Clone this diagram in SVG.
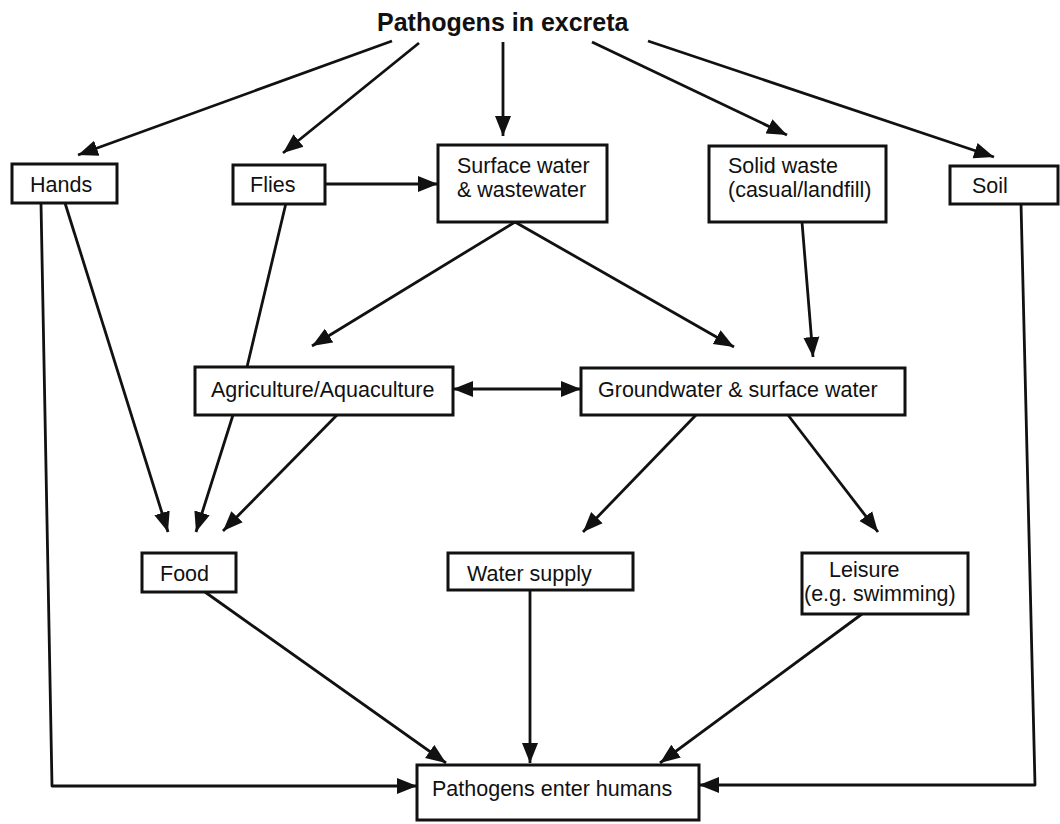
<svg xmlns="http://www.w3.org/2000/svg" width="1060" height="824" viewBox="0 0 1060 824">
<defs>
<marker id="ah" markerUnits="userSpaceOnUse" markerWidth="22" markerHeight="18" refX="20" refY="8" orient="auto-start-reverse" viewBox="0 0 22 16">
<path d="M0,0 L20,8 L0,16 Z" fill="#111"/>
</marker>
<style>
.box{fill:#fff;stroke:#111;stroke-width:3}
.t{font-family:"Liberation Sans",Arial,sans-serif;font-size:21.5px;fill:#111}
.title{font-family:"Liberation Sans",Arial,sans-serif;font-size:25px;font-weight:bold;fill:#111}
.c{fill:none;stroke:#111;stroke-width:2.8;stroke-linejoin:round}
.a{marker-end:url(#ah)}
</style>
</defs>
<rect width="1060" height="824" fill="#fff"/>
<g id="connectors">
<line class="c a" x1="392" y1="41" x2="78" y2="155"/>
<line class="c a" x1="419" y1="43" x2="283" y2="153"/>
<line class="c a" x1="503" y1="42" x2="503" y2="136"/>
<line class="c a" x1="592" y1="42" x2="787" y2="135"/>
<line class="c a" x1="648" y1="41" x2="994" y2="157"/>
<line class="c a" x1="325" y1="184" x2="438" y2="184"/>
<line class="c a" x1="515" y1="222" x2="312" y2="346"/>
<line class="c a" x1="515" y1="222" x2="734" y2="347"/>
<line class="c a" x1="802" y1="222" x2="813" y2="357"/>
<line class="c a" x1="453" y1="389" x2="581" y2="389" style="marker-start:url(#ah)"/>
<line class="c a" x1="65" y1="203" x2="168" y2="532"/>
<polyline class="c a" points="286,203 247,367 233,415 196,532"/>
<line class="c a" x1="337" y1="415" x2="223" y2="531"/>
<line class="c a" x1="696" y1="415" x2="583" y2="532"/>
<line class="c a" x1="788" y1="415" x2="878" y2="532"/>
<line class="c a" x1="205" y1="592" x2="446" y2="763"/>
<line class="c a" x1="530" y1="590" x2="530" y2="763"/>
<line class="c a" x1="862" y1="614" x2="660" y2="763"/>
<polyline class="c a" points="41,203 52,786 417,786"/>
<polyline class="c a" points="1021,203 1035,785 699,785"/>
</g>
<text class="title" x="377" y="31">Pathogens in excreta</text>
<g id="hands"><rect class="box" x="12" y="164" width="105" height="39"/><text class="t" x="30" y="192">Hands</text></g>
<g id="flies"><rect class="box" x="233" y="165" width="92" height="39"/><text class="t" x="250" y="192">Flies</text></g>
<g id="surface"><rect class="box" x="438" y="145" width="169" height="77"/><text class="t" x="457" y="173">Surface water</text><text class="t" x="457" y="197">&amp; wastewater</text></g>
<g id="solid"><rect class="box" x="709" y="146" width="177" height="76"/><text class="t" x="728" y="173">Solid waste</text><text class="t" x="728" y="197">(casual/landfill)</text></g>
<g id="soil"><rect class="box" x="950" y="166" width="108" height="38"/><text class="t" x="972" y="193">Soil</text></g>
<g id="agri"><rect class="box" x="195" y="367" width="258" height="48"/><text class="t" x="211" y="397">Agriculture/Aquaculture</text></g>
<g id="ground"><rect class="box" x="581" y="368" width="324" height="47"/><text class="t" x="598" y="397">Groundwater &amp; surface water</text></g>
<g id="food"><rect class="box" x="142" y="553" width="94" height="39"/><text class="t" x="160" y="581">Food</text></g>
<g id="water"><rect class="box" x="448" y="553" width="185" height="37"/><text class="t" x="467" y="581">Water supply</text></g>
<g id="leisure"><rect class="box" x="802" y="553" width="166" height="61"/><text class="t" x="829" y="577">Leisure</text><text class="t" x="804" y="601">(e.g. swimming)</text></g>
<g id="humans"><rect class="box" x="417" y="765" width="282" height="55"/><text class="t" x="432" y="796">Pathogens enter humans</text></g>
</svg>
